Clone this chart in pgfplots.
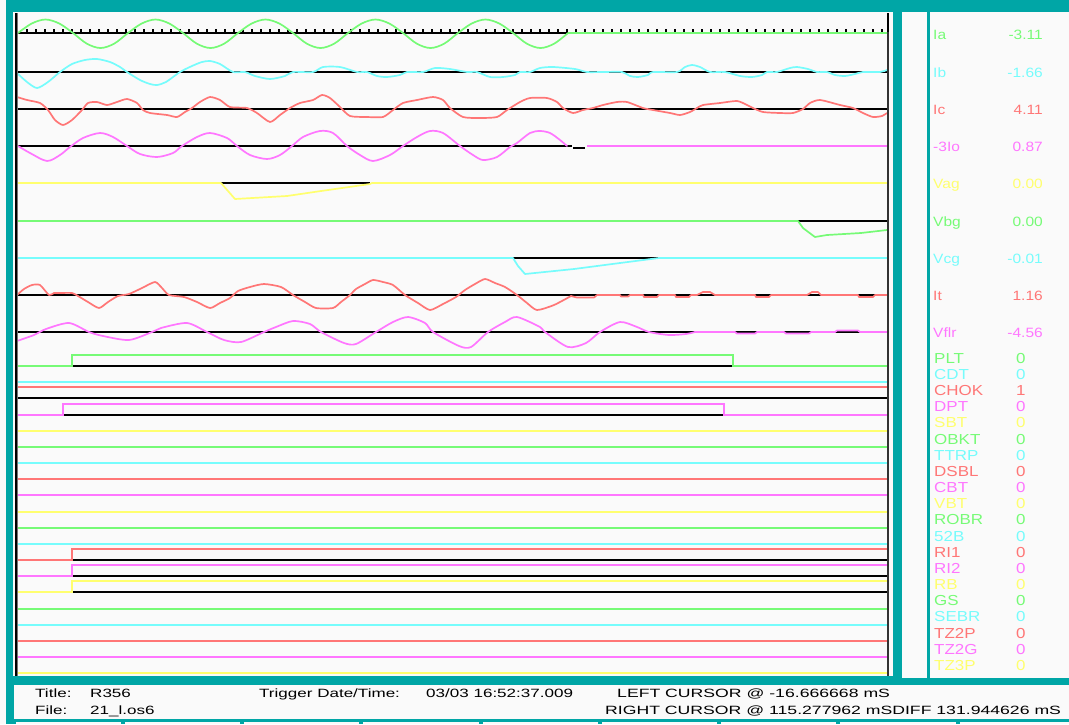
\documentclass[border=0pt]{standalone}
\usepackage{fontspec}
\setmainfont{Liberation Sans}
\usepackage{graphicx}
\usepackage{pgfplots}
\pgfplotsset{compat=1.18}
\definecolor{tealbg}{RGB}{0,166,166}
\definecolor{panel}{RGB}{250,250,250}
\definecolor{colG}{RGB}{118,250,118}
\definecolor{colC}{RGB}{118,252,252}
\definecolor{colR}{RGB}{255,118,118}
\definecolor{colM}{RGB}{255,118,255}
\definecolor{colY}{RGB}{255,255,110}
\newcommand{\sx}[2]{\scalebox{#1}[1]{#2}}
\newcommand{\afont}{\fontsize{13.5}{14}\selectfont}
\newcommand{\dfont}{\fontsize{14.5}{15}\selectfont}
\newcommand{\bfontx}{\fontsize{12}{13}\selectfont}
\begin{document}
\begin{tikzpicture}
\begin{axis}[
 width=1069pt, height=724pt, scale only axis,
 xmin=0, xmax=1069, ymin=0, ymax=724, y dir=reverse,
 hide axis, clip=false,
 every axis plot/.append style={line width=1.7pt, line join=round, line cap=round},
 flat/.style={line width=2pt, line cap=butt},
]
% ---------- panels ----------
\fill[tealbg] (axis cs:0,0) rectangle (axis cs:1069,724);
\fill[panel] (axis cs:0,0) rectangle (axis cs:5.5,724);
\fill[panel] (axis cs:13,12) rectangle (axis cs:893,676);
\fill[panel] (axis cs:902,12) rectangle (axis cs:927,678);
\fill[panel] (axis cs:930,12) rectangle (axis cs:1069,678);
\fill[panel] (axis cs:14,685) rectangle (axis cs:1069,719);
\fill[panel] (axis cs:16,721.5) rectangle (axis cs:121,724);
\fill[panel] (axis cs:125,721.5) rectangle (axis cs:240,724);
\fill[panel] (axis cs:244,721.5) rectangle (axis cs:359,724);
\fill[panel] (axis cs:363,721.5) rectangle (axis cs:479,724);
\fill[panel] (axis cs:483,721.5) rectangle (axis cs:598,724);
\fill[panel] (axis cs:602,721.5) rectangle (axis cs:717,724);
\fill[panel] (axis cs:721,721.5) rectangle (axis cs:836,724);
\fill[panel] (axis cs:840,721.5) rectangle (axis cs:956,724);
\fill[panel] (axis cs:960,721.5) rectangle (axis cs:1069,724);

% ---------- zero lines ----------
\addplot[black, flat] coordinates {(17,33)(568,33)};
\addplot[black, flat] coordinates {(17,72)(887,72)};
\addplot[black, flat] coordinates {(17,109)(887,109)};
\addplot[black, flat] coordinates {(17,146)(572,146)};
\addplot[black, flat] coordinates {(573,148)(585,148)};
\addplot[black, flat] coordinates {(221,183)(370,183)};
\addplot[black, flat] coordinates {(798,221)(887,221)};
\addplot[black, flat] coordinates {(513,258)(659,258)};
\addplot[black, flat] coordinates {(17,295)(887,295)};
\addplot[black, flat] coordinates {(17,332)(887,332)};
\pgfplotsinvokeforeach{27,36,...,882}{\draw[black, line width=1.2pt] (axis cs:#1,29) -- (axis cs:#1,33);}

% ---------- analog traces ----------
% Ia
\addplot[colG, smooth, tension=0.55] coordinates {(18,33)(31.75,23.5)(45.5,19.5)(59.25,23.5)(73,33)(86.75,43.6)(100.5,48)(114.25,43.6)
(128,33)(141.75,23.5)(155.5,19.5)(169.25,23.5)(183,33)(196.75,43.6)(210.5,48)(224.25,43.6)
(238,33)(251.75,23.5)(265.5,19.5)(279.25,23.5)(293,33)(306.75,43.6)(320.5,48)(334.25,43.6)
(348,33)(361.75,23.5)(375.5,19.5)(389.25,23.5)(403,33)(416.75,43.6)(430.5,48)(444.25,43.6)
(458,33)(471.75,23.5)(485.5,19.5)(499.25,23.5)(513,33)(526.75,43.6)(540.5,48)(554.25,43.6)(568,33)};
\addplot[colG, flat] coordinates {(568,33)(887,33)};
% Ib
\addplot[colC, smooth, tension=0.45] coordinates {(17,73)(27,82)(37,88)(48,82)(60,72)(72,64)(85,60)(97,59)(110,62)(120,67)(127,72)(140,80)(150,84)(157,85)(166,82)(180,72)(192,66)(202,62)(210,61)(220,64)(233,72)(245,72)(255,76)(270,79)(285,76)(293,72)(313,72)(323,67)(340,67)(357,72)(367,72)(377,76)(387,77)(400,75)(407,72)(423,72)(435,68)(450,69)(467,72)(477,72)(490,77)(503,77)(515,75)(520,72)(530,72)(540,68)(553,67)(575,69)(587,72)(603,72)(622,72)(630,76)(638,77)(648,75)(653,72)(677,72)(685,67)(692,65)(700,67)(710,72)(725,72)(740,76)(752,77)(762,75)(767,72)(777,72)(790,68)(797,67)(808,69)(817,72)(827,72)(835,75)(845,76)(855,74)(863,72)(880,72)(887,70)};
% Ic
\addplot[colR, smooth, tension=0.4] coordinates {(17,97)(27,100)(40,103)(48,110)(55,120)(63,125)(72,120)(82,110)(88,103)(97,102)(107,105)(117,102)(127,99)(137,103)(143,110)(150,113)(167,115)(177,117)(185,112)(192,108)(200,102)(210,97)(220,100)(230,107)(247,108)(257,113)(270,122)(280,115)(290,108)(300,103)(313,100)(322,95)(330,98)(340,107)(350,116)(367,117)(383,117)(393,110)(403,103)(417,100)(433,97)(443,100)(450,108)(463,117)(480,118)(497,117)(507,110)(520,102)(530,98)(547,98)(557,102)(563,108)(573,113)(583,110)(593,108)(603,105)(617,102)(627,102)(643,108)(653,110)(670,113)(680,115)(690,112)(697,108)(703,105)(720,103)(737,101)(747,105)(753,108)(763,112)(780,113)(793,113)(803,109)(810,103)(820,100)(840,105)(853,108)(863,113)(873,117)(882,116)(887,113)};
% -3Io
\addplot[colM, smooth, tension=0.5] coordinates {(18,146)(30,153)(47,161)(60,155)(70,147)(83,138)(100,133)(113,137)(127,146)(140,154)(157,157)(173,153)(182,146)(197,137)(210,133)(227,138)(237,146)(250,155)(267,159)(280,155)(292,146)(303,137)(320,131)(333,133)(347,146)(360,155)(373,161)(390,155)(403,146)(417,137)(430,131)(443,133)(460,146)(473,155)(483,160)(497,157)(510,147)(517,143)(530,133)(540,131)(550,133)(560,140)(567,146)};
\addplot[colM, flat] coordinates {(587,146)(887,146)};
% Vag
\addplot[colY] coordinates {(17,183)(221,183)(235,199)(287,196)(321,191)(370,184)(372,183)(887,183)};
% Vbg
\addplot[colG] coordinates {(17,221)(798,221)(803,228)(815,237)(827,235)(861,233)(887,230)};
% Vcg
\addplot[colC] coordinates {(17,258)(513,258)(518,266)(525,274)(574,269)(620,263)(659,258)(887,258)};
% It
\addplot[colR, smooth, tension=0.4] coordinates {(17,295)(24,289)(32,285)(40,285)(49,295)(54,293)(60,293)(72,293)(78,296)(88,302)(99,308)(108,302)(118,296)(129,294)(142,288)(155,282)(162,288)(169,295)(184,297)(197,302)(210,308)(220,303)(230,298)(238,291)(250,287)(264,284)(281,287)(293,295)(305,302)(316,308)(333,308)(341,302)(350,295)(356,289)(365,284)(373,280)(383,282)(393,285)(405,295)(418,303)(430,310)(443,304)(456,297)(465,290)(475,284)(485,279)(495,283)(505,287)(517,295)(527,303)(537,310)(554,305)(571,296)};
\addplot[colR] coordinates {(571,296)(577,297.5)(594,297.5)(597,295)(620,295)(621,296.5)(628,296.5)(630,295)(643,295)(644,297)(657,297)(659,295)(675,295)(676,297)(689,297)(691,295)(697,295)(703,292)(710,292)(715,295)(755,295)(756,297)(769,297)(771,295)(807,295)(812,292)(818,292)(821,295)(858,295)(859,297)(873,297)(875,295)(887,295)};
% Vflr
\addplot[colM, smooth, tension=0.45] coordinates {(17,341)(34,335)(46,329)(69,323)(89,332)(103,336)(129,340)(152,332)(161,328)(187,323)(207,332)(224,340)(241,342)(264,332)(276,327)(293,321)(310,324)(321,332)(344,343)(356,344)(376,332)(393,322)(408,317)(425,323)(433,332)(459,346)(471,347)(488,332)(505,322)(517,317)(540,327)(545,332)(568,347)(586,343)(600,332)(620,322)(637,327)(649,332)(669,335)(686,334)(695,332)};
\addplot[colM] coordinates {(695,332)(735,332)(737,333.5)(755,333.5)(757,332)(784,332)(786,333.5)(809,333.5)(811,332)(835,332)(837,330.5)(858,330.5)(860,332)(887,332)};

% ---------- digital traces ----------
\addplot[black, flat] coordinates {(72,366)(733,366)};
\addplot[colG, flat, line join=miter] coordinates {(17,366)(72,366)(72,355)(733,355)(733,366)(887,366)};
\addplot[colC, flat] coordinates {(17,382)(887,382)};
\addplot[black, flat] coordinates {(17,398)(887,398)};
\addplot[colR, flat] coordinates {(17,387)(887,387)};
\addplot[black, flat] coordinates {(63,415)(724,415)};
\addplot[colM, flat, line join=miter] coordinates {(17,415)(63,415)(63,404)(724,404)(724,415)(887,415)};
\addplot[colY, flat] coordinates {(17,431)(887,431)};
\addplot[colG, flat] coordinates {(17,447)(887,447)};
\addplot[colC, flat] coordinates {(17,463)(887,463)};
\addplot[colR, flat] coordinates {(17,479)(887,479)};
\addplot[colM, flat] coordinates {(17,495)(887,495)};
\addplot[colY, flat] coordinates {(17,512)(887,512)};
\addplot[colG, flat] coordinates {(17,528)(887,528)};
\addplot[colC, flat] coordinates {(17,544)(887,544)};
\addplot[black, flat] coordinates {(72,560)(887,560)};
\addplot[colR, flat, line join=miter] coordinates {(17,560)(72,560)(72,549)(887,549)};
\addplot[black, flat] coordinates {(72,576)(887,576)};
\addplot[colM, flat, line join=miter] coordinates {(17,576)(72,576)(72,565)(887,565)};
\addplot[black, flat] coordinates {(72,592)(887,592)};
\addplot[colY, flat, line join=miter] coordinates {(17,592)(72,592)(72,581)(887,581)};
\addplot[colG, flat] coordinates {(17,609)(887,609)};
\addplot[colC, flat] coordinates {(17,625)(887,625)};
\addplot[colR, flat] coordinates {(17,641)(887,641)};
\addplot[colM, flat] coordinates {(17,657)(887,657)};
\addplot[colY, flat] coordinates {(17,673)(887,673)};

% ---------- borders ----------
\draw[black!55, line width=1.2pt] (axis cs:17.5,13) -- (axis cs:17.5,676);
\draw[black, line width=1.4pt] (axis cs:16,13) -- (axis cs:16,676);
\draw[black!80, line width=1.2pt] (axis cs:888,13) -- (axis cs:888,676);
\draw[black, line width=1.8pt] (axis cs:888,13) -- (axis cs:888,32);

% ---------- analog labels ----------
\node[anchor=base west, text=colG, font=\afont, inner sep=0] at (axis cs:933,39) {\sx{1.15}{Ia}};
\node[anchor=base west, text=colC, font=\afont, inner sep=0] at (axis cs:933,77) {\sx{1.15}{Ib}};
\node[anchor=base west, text=colR, font=\afont, inner sep=0] at (axis cs:933,114) {\sx{1.15}{Ic}};
\node[anchor=base west, text=colM, font=\afont, inner sep=0] at (axis cs:933,151) {\sx{1.15}{-3Io}};
\node[anchor=base west, text=colY, font=\afont, inner sep=0] at (axis cs:933,188) {\sx{1.15}{Vag}};
\node[anchor=base west, text=colG, font=\afont, inner sep=0] at (axis cs:933,226) {\sx{1.15}{Vbg}};
\node[anchor=base west, text=colC, font=\afont, inner sep=0] at (axis cs:933,263) {\sx{1.15}{Vcg}};
\node[anchor=base west, text=colR, font=\afont, inner sep=0] at (axis cs:933,300) {\sx{1.15}{It}};
\node[anchor=base west, text=colM, font=\afont, inner sep=0] at (axis cs:933,337) {\sx{1.15}{Vflr}};
\node[anchor=base east, text=colG, font=\afont, inner sep=0] at (axis cs:1043,39) {\sx{1.15}{-3.11}};
\node[anchor=base east, text=colC, font=\afont, inner sep=0] at (axis cs:1043,77) {\sx{1.15}{-1.66}};
\node[anchor=base east, text=colR, font=\afont, inner sep=0] at (axis cs:1043,114) {\sx{1.15}{4.11}};
\node[anchor=base east, text=colM, font=\afont, inner sep=0] at (axis cs:1043,151) {\sx{1.15}{0.87}};
\node[anchor=base east, text=colY, font=\afont, inner sep=0] at (axis cs:1043,188) {\sx{1.15}{0.00}};
\node[anchor=base east, text=colG, font=\afont, inner sep=0] at (axis cs:1043,226) {\sx{1.15}{0.00}};
\node[anchor=base east, text=colC, font=\afont, inner sep=0] at (axis cs:1043,263) {\sx{1.15}{-0.01}};
\node[anchor=base east, text=colR, font=\afont, inner sep=0] at (axis cs:1043,300) {\sx{1.15}{1.16}};
\node[anchor=base east, text=colM, font=\afont, inner sep=0] at (axis cs:1043,337) {\sx{1.15}{-4.56}};

% ---------- digital labels ----------
\node[anchor=base west, text=colG, font=\dfont, inner sep=0] at (axis cs:934,363.2) {\sx{1.17}{PLT}};
\node[anchor=base west, text=colC, font=\dfont, inner sep=0] at (axis cs:934,379.4) {\sx{1.17}{CDT}};
\node[anchor=base west, text=colR, font=\dfont, inner sep=0] at (axis cs:934,395.5) {\sx{1.17}{CHOK}};
\node[anchor=base west, text=colM, font=\dfont, inner sep=0] at (axis cs:934,411.7) {\sx{1.17}{DPT}};
\node[anchor=base west, text=colY, font=\dfont, inner sep=0] at (axis cs:934,427.9) {\sx{1.17}{SBT}};
\node[anchor=base west, text=colG, font=\dfont, inner sep=0] at (axis cs:934,444.1) {\sx{1.17}{OBKT}};
\node[anchor=base west, text=colC, font=\dfont, inner sep=0] at (axis cs:934,460.2) {\sx{1.17}{TTRP}};
\node[anchor=base west, text=colR, font=\dfont, inner sep=0] at (axis cs:934,476.4) {\sx{1.17}{DSBL}};
\node[anchor=base west, text=colM, font=\dfont, inner sep=0] at (axis cs:934,492.6) {\sx{1.17}{CBT}};
\node[anchor=base west, text=colY, font=\dfont, inner sep=0] at (axis cs:934,508.7) {\sx{1.17}{VBT}};
\node[anchor=base west, text=colG, font=\dfont, inner sep=0] at (axis cs:934,524.9) {\sx{1.17}{ROBR}};
\node[anchor=base west, text=colC, font=\dfont, inner sep=0] at (axis cs:934,541.1) {\sx{1.17}{52B}};
\node[anchor=base west, text=colR, font=\dfont, inner sep=0] at (axis cs:934,557.2) {\sx{1.17}{RI1}};
\node[anchor=base west, text=colM, font=\dfont, inner sep=0] at (axis cs:934,573.4) {\sx{1.17}{RI2}};
\node[anchor=base west, text=colY, font=\dfont, inner sep=0] at (axis cs:934,589.6) {\sx{1.17}{RB}};
\node[anchor=base west, text=colG, font=\dfont, inner sep=0] at (axis cs:934,605.8) {\sx{1.17}{GS}};
\node[anchor=base west, text=colC, font=\dfont, inner sep=0] at (axis cs:934,621.9) {\sx{1.17}{SEBR}};
\node[anchor=base west, text=colR, font=\dfont, inner sep=0] at (axis cs:934,638.1) {\sx{1.17}{TZ2P}};
\node[anchor=base west, text=colM, font=\dfont, inner sep=0] at (axis cs:934,654.3) {\sx{1.17}{TZ2G}};
\node[anchor=base west, text=colY, font=\dfont, inner sep=0] at (axis cs:934,670.4) {\sx{1.17}{TZ3P}};
\node[anchor=base west, text=colG, font=\dfont, inner sep=0] at (axis cs:1016,363.2) {\sx{1.17}{0}};
\node[anchor=base west, text=colC, font=\dfont, inner sep=0] at (axis cs:1016,379.4) {\sx{1.17}{0}};
\node[anchor=base west, text=colR, font=\dfont, inner sep=0] at (axis cs:1016,395.5) {\sx{1.17}{1}};
\node[anchor=base west, text=colM, font=\dfont, inner sep=0] at (axis cs:1016,411.7) {\sx{1.17}{0}};
\node[anchor=base west, text=colY, font=\dfont, inner sep=0] at (axis cs:1016,427.9) {\sx{1.17}{0}};
\node[anchor=base west, text=colG, font=\dfont, inner sep=0] at (axis cs:1016,444.1) {\sx{1.17}{0}};
\node[anchor=base west, text=colC, font=\dfont, inner sep=0] at (axis cs:1016,460.2) {\sx{1.17}{0}};
\node[anchor=base west, text=colR, font=\dfont, inner sep=0] at (axis cs:1016,476.4) {\sx{1.17}{0}};
\node[anchor=base west, text=colM, font=\dfont, inner sep=0] at (axis cs:1016,492.6) {\sx{1.17}{0}};
\node[anchor=base west, text=colY, font=\dfont, inner sep=0] at (axis cs:1016,508.7) {\sx{1.17}{0}};
\node[anchor=base west, text=colG, font=\dfont, inner sep=0] at (axis cs:1016,524.9) {\sx{1.17}{0}};
\node[anchor=base west, text=colC, font=\dfont, inner sep=0] at (axis cs:1016,541.1) {\sx{1.17}{0}};
\node[anchor=base west, text=colR, font=\dfont, inner sep=0] at (axis cs:1016,557.2) {\sx{1.17}{0}};
\node[anchor=base west, text=colM, font=\dfont, inner sep=0] at (axis cs:1016,573.4) {\sx{1.17}{0}};
\node[anchor=base west, text=colY, font=\dfont, inner sep=0] at (axis cs:1016,589.6) {\sx{1.17}{0}};
\node[anchor=base west, text=colG, font=\dfont, inner sep=0] at (axis cs:1016,605.8) {\sx{1.17}{0}};
\node[anchor=base west, text=colC, font=\dfont, inner sep=0] at (axis cs:1016,621.9) {\sx{1.17}{0}};
\node[anchor=base west, text=colR, font=\dfont, inner sep=0] at (axis cs:1016,638.1) {\sx{1.17}{0}};
\node[anchor=base west, text=colM, font=\dfont, inner sep=0] at (axis cs:1016,654.3) {\sx{1.17}{0}};
\node[anchor=base west, text=colY, font=\dfont, inner sep=0] at (axis cs:1016,670.4) {\sx{1.17}{0}};

% ---------- bottom info ----------
\node[anchor=base west, text=black, font=\bfontx, inner sep=0] at (axis cs:35,697) {\sx{1.42}{Title:}};
\node[anchor=base west, text=black, font=\bfontx, inner sep=0] at (axis cs:90,697) {\sx{1.42}{R356}};
\node[anchor=base west, text=black, font=\bfontx, inner sep=0] at (axis cs:259,697) {\sx{1.42}{Trigger Date/Time:}};
\node[anchor=base west, text=black, font=\bfontx, inner sep=0] at (axis cs:426,697) {\sx{1.42}{03/03 16:52:37.009}};
\node[anchor=base west, text=black, font=\bfontx, inner sep=0] at (axis cs:617,697) {\sx{1.47}{LEFT CURSOR @ -16.666668 mS}};
\node[anchor=base west, text=black, font=\bfontx, inner sep=0] at (axis cs:35,714) {\sx{1.42}{File:}};
\node[anchor=base west, text=black, font=\bfontx, inner sep=0] at (axis cs:90,714) {\sx{1.42}{21\_l.os6}};
\node[anchor=base west, text=black, font=\bfontx, inner sep=0] at (axis cs:605,714) {\sx{1.47}{RIGHT CURSOR @ 115.277962 mSDIFF 131.944626 mS}};
\end{axis}
\end{tikzpicture}
\end{document}
